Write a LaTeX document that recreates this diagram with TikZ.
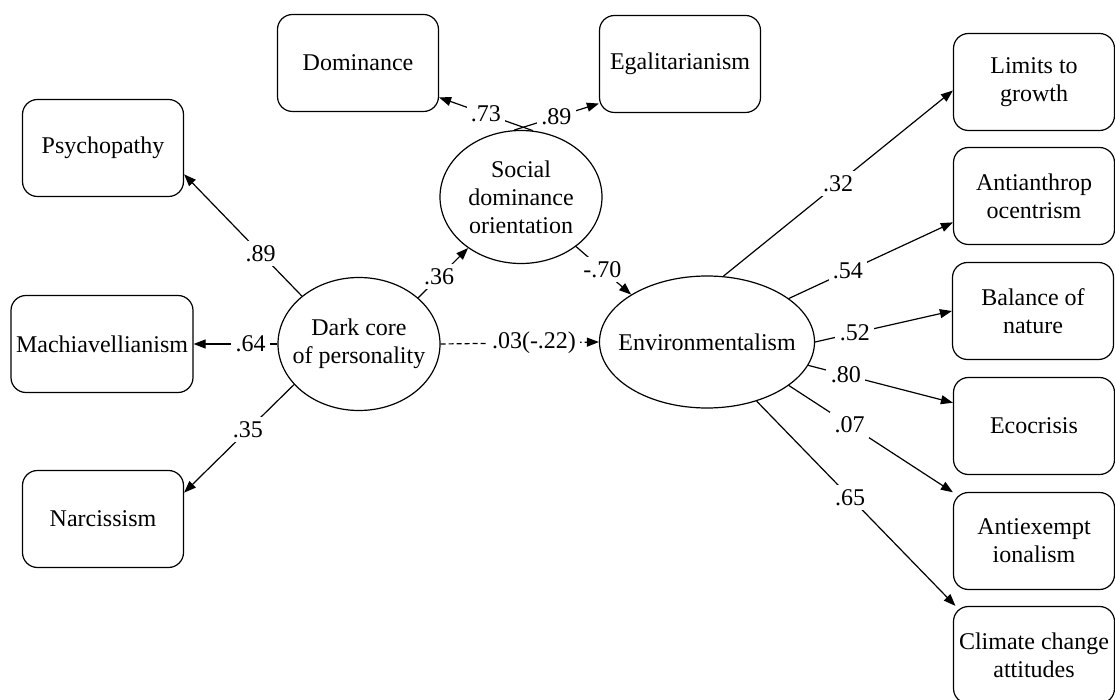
\documentclass[tikz,border=0pt]{standalone}
\usepackage{fontspec}
\setmainfont{Liberation Serif}
\usetikzlibrary{arrows.meta,shapes.geometric}
\newcommand{\pathcoef}[4]{%
  \draw[semarrow] (#1) -- node[coef,pos=#3]{#4} (#2);
}

\begin{document}
\begin{tikzpicture}[x=.5pt,y=-.5pt,font=\fontsize{12}{14}\selectfont,
    obs/.style={draw,line width=.6pt,rounded corners=7.5pt,minimum width=80.5pt,
      minimum height=48.5pt,inner sep=0pt,align=center},
    lat/.style={draw,line width=.6pt,ellipse,minimum width=81pt,minimum height=66.5pt,
      inner xsep=-8pt,inner ysep=0pt,align=center},
    semarrow/.style={line width=.6pt,-{Triangle[length=6pt,width=4.5pt]}},
    coef/.style={fill=white,inner sep=2.2pt}]
    \useasboundingbox (0,0) rectangle (1115,700);
    \node[lat] (dark) at (359,344) {Dark core\\of personality};
    \node[lat] (sdo) at (521,197) {Social\\dominance\\orientation};
    \node[lat,minimum width=107.5pt,minimum height=66pt] (env) at (707,342) {Environmentalism};
    \node[obs] (psy) at (103,148) {Psychopathy};
    \node[obs,minimum width=91pt] (mach) at (102,344) {Machiavellianism};
    \node[obs] (narc) at (103,519) {Narcissism};
    \node[obs] (dom) at (358,63) {Dominance};
    \node[obs] (egal) at (680,64) {Egalitarianism};
    \node[obs] (lim) at (1034,82) {Limits to\\growth};
    \node[obs] (anth) at (1034,196) {Antianthrop\\ocentrism};
    \node[obs] (bal) at (1033,311) {Balance of\\nature};
    \node[obs] (eco) at (1034,426) {Ecocrisis};
    \node[obs] (exem) at (1034,541) {Antiexempt\\ionalism};
    \node[obs] (clim) at (1034,655) {Climate change\\attitudes};
    \pathcoef{dark.140}{psy.-18}{.35}{.89}
    \pathcoef{dark.west}{mach.east}{.32}{.64}
    \pathcoef{dark.212}{narc.18}{.42}{.35}
    \pathcoef{dark.38}{sdo.224}{.42}{.36}
    \draw[semarrow,dash pattern=on 2.5pt off 1.5pt] (dark.east) -- node[coef,pos=.59]{.03(-.22)} (env.west);
    \pathcoef{sdo.80}{dom.-23}{.5}{.73}
    \pathcoef{sdo.96}{egal.206}{.5}{.89}
    \pathcoef{sdo.-42}{env.148}{.48}{-.70}
    \pathcoef{env.76}{lim.186}{.5}{.32}
    \pathcoef{env.28}{anth.198}{.36}{.54}
    \pathcoef{env.east}{bal.west}{.29}{.52}
    \pathcoef{env.-13}{eco.164}{.26}{.80}
    \pathcoef{env.-28}{exem.149}{.37}{.07}
    \pathcoef{env.-50}{clim.148}{.47}{.65}
  \end{tikzpicture}
\end{document}
